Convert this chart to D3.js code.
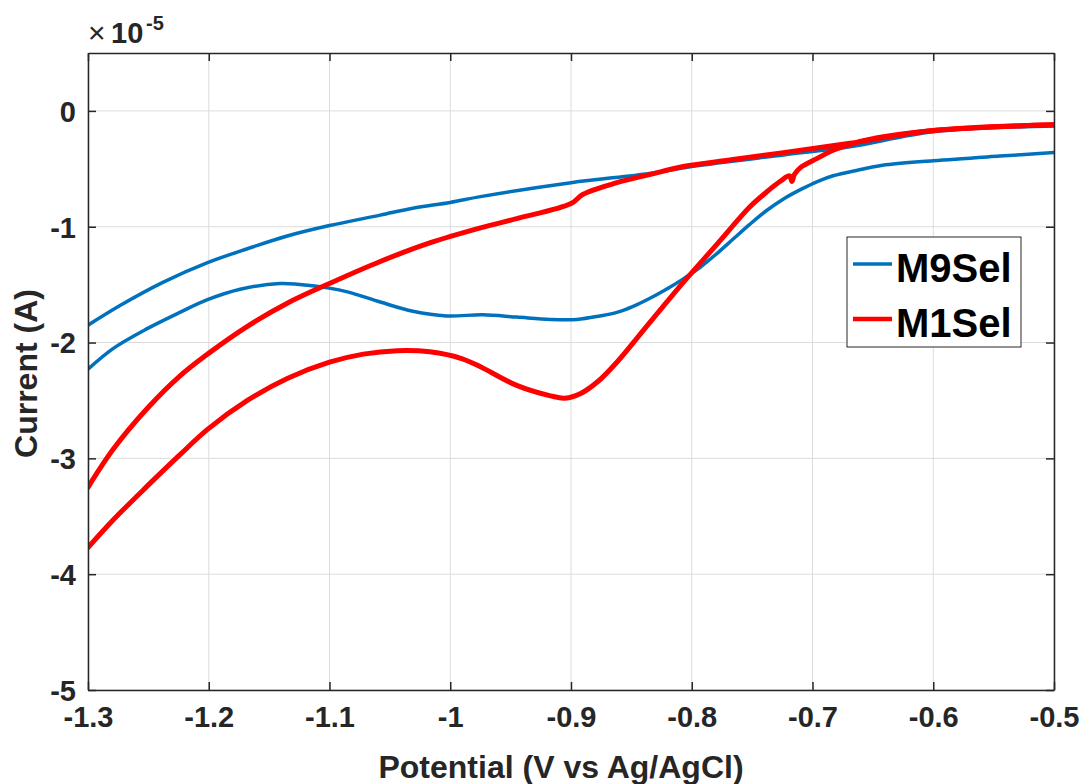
<!DOCTYPE html>
<html>
<head>
<meta charset="utf-8">
<script src="https://d3js.org/d3.v7.min.js"></script>
<style>
    body { margin: 0; background: #fff; }
    svg { font-family: "Liberation Sans", Arial, Helvetica, sans-serif; }
</style>
</head>
<body>
<svg width="1083" height="784"></svg>
<script>
// current values are in units of 1e-5 A
var m9UpperV = [-1.3, -1.2735, -1.238, -1.201, -1.168, -1.135, -1.10, -1.058, -1.031, -1.0, -0.975, -0.90, -0.835, -0.80, -0.724, -0.669, -0.60, -0.5];
var m9UpperI = [-1.85, -1.68, -1.48, -1.31, -1.19, -1.08, -0.99, -0.90, -0.84, -0.79, -0.74, -0.62, -0.54, -0.48, -0.38, -0.31, -0.18, -0.13];

var m9LowerV = [-1.3, -1.279, -1.251, -1.224, -1.201, -1.174, -1.141, -1.114, -1.086, -1.058, -1.031, -1.003, -0.973, -0.945, -0.917, -0.895, -0.876, -0.862, -0.849, -0.835, -0.821, -0.807, -0.793, -0.779, -0.765, -0.752, -0.738, -0.724, -0.71, -0.696, -0.683, -0.662, -0.642, -0.60, -0.545, -0.5];
var m9LowerI = [-2.23, -2.05, -1.88, -1.74, -1.63, -1.54, -1.49, -1.51, -1.56, -1.65, -1.73, -1.77, -1.76, -1.78, -1.80, -1.80, -1.77, -1.74, -1.69, -1.62, -1.54, -1.45, -1.35, -1.23, -1.10, -0.98, -0.86, -0.76, -0.68, -0.61, -0.56, -0.51, -0.47, -0.43, -0.39, -0.36];

var m1UpperV = [-1.3, -1.279, -1.251, -1.224, -1.201, -1.168, -1.135, -1.10, -1.058, -1.017, -0.975, -0.945, -0.90, -0.89, -0.862, -0.835, -0.807, -0.766, -0.724, -0.669, -0.60, -0.5];
var m1UpperI = [-3.25, -2.92, -2.57, -2.29, -2.10, -1.86, -1.66, -1.49, -1.30, -1.14, -1.01, -0.93, -0.80, -0.72, -0.62, -0.55, -0.48, -0.42, -0.36, -0.28, -0.17, -0.12];

var m1LowerV = [-1.3, -1.279, -1.251, -1.224, -1.201, -1.168, -1.135, -1.10, -1.072, -1.044, -1.017, -0.99, -0.973, -0.945, -0.917, -0.905, -0.892, -0.877, -0.862, -0.835, -0.807, -0.779, -0.752, -0.738, -0.727, -0.719, -0.717, -0.715, -0.71, -0.696, -0.683, -0.669, -0.655, -0.60, -0.5];
var m1LowerI = [-3.77, -3.53, -3.24, -2.97, -2.75, -2.50, -2.31, -2.17, -2.10, -2.07, -2.08, -2.14, -2.22, -2.37, -2.46, -2.48, -2.44, -2.33, -2.17, -1.83, -1.48, -1.15, -0.83, -0.70, -0.61, -0.56, -0.61, -0.55, -0.49, -0.41, -0.34, -0.29, -0.25, -0.17, -0.12];

var xTicks = [-1.3, -1.2, -1.1, -1, -0.9, -0.8, -0.7, -0.6, -0.5];
var yTicks = [0, -1, -2, -3, -4, -5];
var seriesNames = ['M9Sel', 'M1Sel'];
var seriesColors = ['#0072BD', '#FF0000'];

d3.select(window).on('load', init);

function init() {

    var svg = d3.select('svg');
    var margin = {top: 53, right: 29, bottom: 94, left: 88};
    var width = 1083 - margin.left - margin.right;
    var height = 784 - margin.top - margin.bottom;
    var textColor = '#262626';

    var g = svg.append('g')
        .attr('transform', 'translate(' + margin.left + ',' + margin.top + ')');

    var xScale = d3.scaleLinear()
        .domain([-1.3, -0.5])
        .range([0, width]);

    var yScale = d3.scaleLinear()
        .domain([-5, 0.5])
        .range([height, 0]);

    // grid
    g.append('g')
        .selectAll('line')
        .data(xTicks)
        .enter()
        .append('line')
        .attr('x1', function (d) { return xScale(d); })
        .attr('x2', function (d) { return xScale(d); })
        .attr('y1', 0)
        .attr('y2', height)
        .attr('stroke', '#dcdcdc')
        .attr('stroke-width', 1);

    g.append('g')
        .selectAll('line')
        .data(yTicks)
        .enter()
        .append('line')
        .attr('x1', 0)
        .attr('x2', width)
        .attr('y1', function (d) { return yScale(d); })
        .attr('y2', function (d) { return yScale(d); })
        .attr('stroke', '#dcdcdc')
        .attr('stroke-width', 1);

    // curves
    function branch(vs, is) {
        return vs.map(function (v, k) { return [v, is[k]]; });
    }

    var line = d3.line()
        .x(function (d) { return xScale(d[0]); })
        .y(function (d) { return yScale(d[1]); })
        .curve(d3.curveCatmullRom.alpha(0.5));

    var curves = [
        {data: branch(m9UpperV, m9UpperI), color: seriesColors[0], w: 3.5},
        {data: branch(m9LowerV, m9LowerI), color: seriesColors[0], w: 3.5},
        {data: branch(m1UpperV, m1UpperI), color: seriesColors[1], w: 5},
        {data: branch(m1LowerV, m1LowerI), color: seriesColors[1], w: 5}
    ];

    g.append('defs').append('clipPath')
        .attr('id', 'clip')
        .append('rect')
        .attr('width', width)
        .attr('height', height);

    g.append('g')
        .attr('clip-path', 'url(#clip)')
        .selectAll('path')
        .data(curves)
        .enter()
        .append('path')
        .attr('d', function (d) { return line(d.data); })
        .attr('fill', 'none')
        .attr('stroke', function (d) { return d.color; })
        .attr('stroke-width', function (d) { return d.w; })
        .attr('stroke-linejoin', 'round')
        .attr('stroke-linecap', 'round');

    // axes (ticks inward, box all round)
    var xAxis = g.append('g')
        .attr('transform', 'translate(0,' + height + ')')
        .call(d3.axisBottom(xScale).tickValues(xTicks).tickSizeInner(-8).tickSizeOuter(0).tickPadding(16)
            .tickFormat(function (d) { return String(d); }));

    var xAxisTop = g.append('g')
        .call(d3.axisTop(xScale).tickValues(xTicks).tickSizeInner(-8).tickSizeOuter(0).tickFormat(''));

    var yAxis = g.append('g')
        .call(d3.axisLeft(yScale).tickValues(yTicks).tickSizeInner(-8).tickSizeOuter(0).tickPadding(12)
            .tickFormat(function (d) { return String(d); }));

    var yAxisRight = g.append('g')
        .attr('transform', 'translate(' + width + ',0)')
        .call(d3.axisRight(yScale).tickValues(yTicks).tickSizeInner(-8).tickSizeOuter(0).tickFormat(''));

    [xAxis, xAxisTop, yAxis, yAxisRight].forEach(function (a) {
        a.select('.domain').attr('stroke', textColor).attr('stroke-width', 1.5);
        a.selectAll('.tick line').attr('stroke', textColor).attr('stroke-width', 1.5);
        a.selectAll('.tick text')
            .attr('fill', textColor)
            .style('font-size', '29px')
            .style('font-weight', 'bold')
            .style('font-family', '"Liberation Sans", Arial, sans-serif');
    });

    yAxis.selectAll('.tick text').attr('dy', '0.36em');

    // exponent label
    svg.append('text')
        .attr('x', 88)
        .attr('y', 43)
        .attr('fill', textColor)
        .style('font-size', '30px')
        .text('\u00d7');
    svg.append('text')
        .attr('x', 111)
        .attr('y', 43)
        .attr('fill', textColor)
        .style('font-size', '29px')
        .style('font-weight', 'bold')
        .text('10');
    svg.append('text')
        .attr('x', 146)
        .attr('y', 30)
        .attr('fill', textColor)
        .style('font-size', '20px')
        .style('font-weight', 'bold')
        .text('-5');

    // axis titles
    svg.append('text')
        .attr('x', margin.left + width / 2 - 10)
        .attr('y', 778)
        .attr('text-anchor', 'middle')
        .attr('fill', textColor)
        .style('font-size', '32px')
        .style('font-weight', 'bold')
        .text('Potential (V vs Ag/AgCl)');

    svg.append('text')
        .attr('transform', 'translate(37,' + (margin.top + height / 2 + 2) + ') rotate(-90)')
        .attr('text-anchor', 'middle')
        .attr('fill', textColor)
        .style('font-size', '32px')
        .style('font-weight', 'bold')
        .text('Current (A)');

    // legend
    var legend = svg.append('g')
        .attr('transform', 'translate(847,237)');

    legend.append('rect')
        .attr('width', 174)
        .attr('height', 110)
        .attr('fill', '#fff')
        .attr('stroke', textColor)
        .attr('stroke-width', 1);

    var items = legend.selectAll('.item')
        .data(seriesNames)
        .enter()
        .append('g')
        .attr('class', 'item')
        .attr('transform', function (d, i) { return 'translate(0,' + (27 + i * 55) + ')'; });

    items.append('line')
        .attr('x1', 6)
        .attr('x2', 45)
        .attr('stroke', function (d, i) { return seriesColors[i]; })
        .attr('stroke-width', function (d, i) { return i === 0 ? 3.5 : 4.5; });

    items.append('text')
        .attr('x', 49)
        .attr('y', 18)
        .attr('fill', '#000')
        .style('font-size', '40px')
        .style('font-weight', 'bold')
        .text(function (d) { return d; });
}
</script>
</body>
</html>
